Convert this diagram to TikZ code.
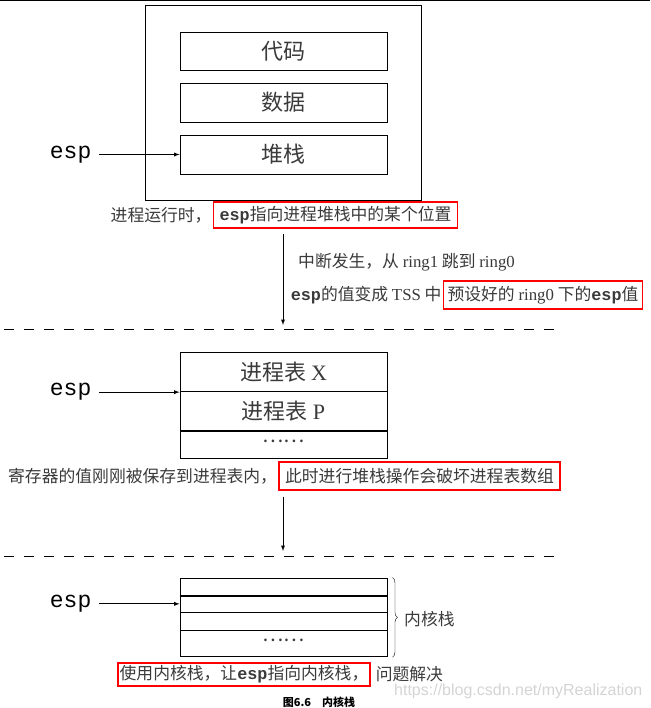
\documentclass[tikz,border=0pt]{standalone}
\usepackage{fontspec}
\setmainfont{Liberation Serif}
\newfontfamily\cjk{Noto Sans CJK SC}
\newfontfamily\espfont{Liberation Mono}
\newfontfamily\urlfont{Liberation Sans}
\usetikzlibrary{positioning,decorations.pathreplacing}

\definecolor{txtgray}{HTML}{3A3A3A}
\definecolor{boxred}{HTML}{FF0000}
\definecolor{markgray}{HTML}{D4D4D4}

\newcommand{\esp}{{\espfont\bfseries esp}}

\tikzset{
  cell/.style={draw, line width=0.9pt, minimum width=207pt, inner sep=0pt,
    font=\fontsize{22}{24}\selectfont\cjk, text=txtgray},
  redbox/.style={draw=boxred, line width=1.6pt, inner sep=1.5pt,
    font=\fontsize{16.8}{18}\selectfont\cjk, text=txtgray},
  note/.style={inner sep=0pt, font=\fontsize{16.8}{18}\selectfont\cjk, text=txtgray},
  esplabel/.style={inner xsep=7.5pt, inner ysep=0pt, font=\fontsize{23}{26}\selectfont\espfont},
  sepline/.style={line width=1.6pt},
  cutline/.style={dash pattern=on 10pt off 10pt, line width=1pt},
  >=latex
}

\begin{document}
\begin{tikzpicture}[x=1pt,y=-1pt]
\useasboundingbox (0,0) rectangle (650,708);
\draw[line width=1pt] (0,0.5) -- (650,0.5);

% process is running
\node[draw, line width=0.9pt, minimum width=276pt, minimum height=195pt] (proc) at (283,102.5) {};
\node[cell, minimum height=38pt] (code) at (283.5,51) {代码};
\node[cell, minimum height=39pt] (data) at (283.5,102.5) {数据};
\node[cell, minimum height=39pt] (stack) at (283.5,154.5) {堆栈};
\node[esplabel, left=80.5pt of stack.west] (esp1) {esp};
\draw[->, line width=0.9pt] (esp1.east) -- (stack.west);
\node[redbox, minimum width=244pt, minimum height=26pt] (cap1) at (335.5,215) {\esp 指向进程堆栈中的某个位置};
\node[note, left=1pt of cap1] (cap1a) {进程运行时，};

% interrupt
\coordinate (a1top) at (283,234);
\coordinate (a1end) at (283,325);
\draw[->, line width=0.9pt] (a1top) -- (a1end);
\node[note, anchor=west] (irq) at (298,262) {中断发生，从 {\rmfamily ring1} 跳到 {\rmfamily ring0}};
\node[redbox, minimum width=199pt, minimum height=28pt] (cap2) at (543,295) {预设好的 {\rmfamily ring0} 下的\esp 值};
\node[note, left=1pt of cap2] (cap2a) {\esp 的值变成 {\rmfamily TSS} 中};
\draw[cutline] (4,329) -- (562,329);

% process table
\node[cell, minimum height=39pt] (tabX) at (283.5,372.2) {进程表 {\rmfamily X}};
\node[cell, minimum height=39pt] (tabP) at (283.5,411.2) {进程表 {\rmfamily P}};
\node[cell, minimum height=27.3pt] (tabR) at (283.5,444.35) {};
\node[note, font=\fontsize{20}{22}\selectfont\cjk] (tabdots) at (283.5,441) {……};
\draw[sepline] (tabP.south west) -- (tabP.south east);
\node[esplabel, left=80.5pt of tabX.south west] (esp2) {esp};
\draw[->, line width=0.9pt] (esp2.east) -- (tabX.south west);
\node[redbox, minimum width=281pt, minimum height=28pt] (cap3) at (419.5,476) {此时进行堆栈操作会破坏进程表数组};
\node[note, left=1pt of cap3] (cap3a) {寄存器的值刚刚被保存到进程表内，};

\coordinate (a2top) at (283,496.5);
\coordinate (a2end) at (283,551);
\draw[->, line width=0.9pt] (a2top) -- (a2end);
\draw[cutline] (4,556) -- (562,556);

% kernel stack
\node[cell, minimum height=17.7pt] (ks1) at (283.5,586.85) {};
\node[cell, minimum height=16.3pt] (ks2) at (283.5,603.85) {};
\node[cell, minimum height=18pt] (ks3) at (283.5,621) {};
\node[cell, minimum height=26.7pt] (ks4) at (283.5,643.35) {};
\node[note, font=\fontsize{20}{22}\selectfont\cjk] (ksdots) at (283.5,640) {……};
\foreach \r in {ks1,ks2,ks3}
  \draw[sepline] (\r.south west) -- (\r.south east);
\node[esplabel, left=80.5pt of ks2.west] (esp3) {esp};
\draw[->, line width=0.9pt] (esp3.east) -- (ks2.west);
\coordinate (brtop) at ([xshift=5pt]ks1.north east);
\coordinate (brbot) at ([xshift=5pt]ks4.south east);
\draw[decorate, decoration={brace, amplitude=5pt}] (brtop) -- (brbot);
\node[note, anchor=west] (kslabel) at (404,619) {内核栈};
\node[redbox, minimum width=250pt, minimum height=23pt] (cap4) at (244,674.4) {使用内核栈，让\esp 指向内核栈，};
\node[note, right=5pt of cap4] (cap4a) {问题解决};

\node[anchor=west, inner sep=0pt, text=markgray, font=\fontsize{16}{18}\selectfont\urlfont] (mark) at (394,691) {https://blog.csdn.net/myRealization};
\node[inner sep=0pt, font=\fontsize{11}{12}\selectfont\cjk\bfseries] (fig) at (319,702) {图6.6\quad 内核栈};
\end{tikzpicture}
\end{document}
